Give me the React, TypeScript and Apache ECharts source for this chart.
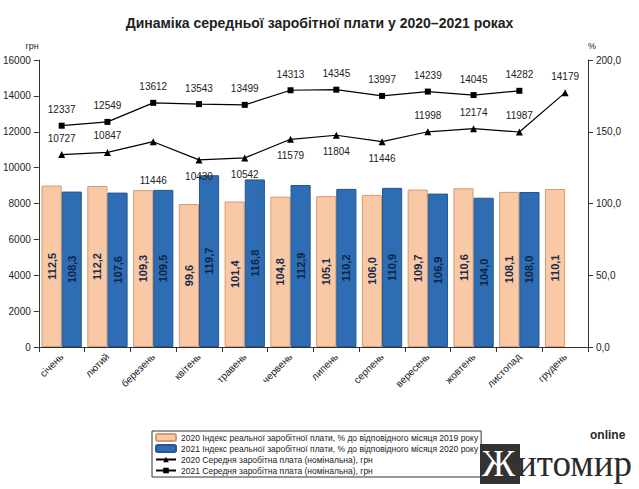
import React, { useEffect, useRef } from "react";
import * as echarts from "echarts";

const months = ["січень", "лютий", "березень", "квітень", "травень", "червень", "липень", "серпень", "вересень", "жовтень", "листопад", "грудень"];
const idx2020 = [112.5, 112.2, 109.3, 99.6, 101.4, 104.8, 105.1, 106.0, 109.7, 110.6, 108.1, 110.1];
const idx2021 = [108.3, 107.6, 109.5, 119.7, 116.8, 112.9, 110.2, 110.9, 106.9, 104.0, 108.0, null];
const wage2020 = [10727, 10847, 11446, 10430, 10542, 11579, 11804, 11446, 11998, 12174, 11987, 14179];
const wage2021 = [12337, 12549, 13612, 13543, 13499, 14313, 14345, 13997, 14239, 14045, 14282, null];
const pos2020 = ["top", "top", "bottom", "bottom", "bottom", "bottom", "bottom", "bottom", "top", "top", "top", "top"];

const names = [
  "2020 Індекс реальної заробітної плати, % до відповідного місяця 2019 року",
  "2021 Індекс реальної заробітної плати, % до відповідного місяця 2020 року",
  "2020 Середня заробітна плата (номінальна), грн",
  "2021 Середня заробітна плата (номінальна), грн",
];

const fmt = (v: number) => v.toFixed(1).replace(".", ",");

const App: React.FC = () => {
  const ref = useRef<HTMLDivElement>(null);

  useEffect(() => {
    if (!ref.current) return;
    document.body.style.margin = "0";
    const chart = echarts.init(ref.current, null, { renderer: "svg" });
    const barLabel = {
      show: true,
      position: "inside" as const,
      rotate: 90,
      fontSize: 11,
      fontWeight: "bold" as const,
      color: "#1a2a4a",
      formatter: (p: any) => fmt(p.value),
    };
    chart.setOption({
      animation: false,
      textStyle: { fontFamily: "Liberation Sans, Arial, sans-serif" },
      title: {
        text: "Динаміка середньої заробітної плати у 2020–2021 роках",
        left: "center",
        top: 11,
        textStyle: { fontSize: 14, fontWeight: "bold", color: "#222" },
      },
      grid: { left: 38, right: 51, top: 60, bottom: 142 },
      legend: {
        orient: "vertical",
        left: 152,
        top: 431,
        height: 80,
        itemGap: 2,
        itemWidth: 20,
        itemHeight: 7,
        padding: [2, 3, 2, 3],
        borderColor: "#333",
        borderWidth: 1,
        textStyle: { fontSize: 8.5, color: "#222" },
        data: names,
      },
      xAxis: {
        type: "category",
        data: months,
        axisLine: { lineStyle: { color: "#333" } },
        axisTick: { show: true, lineStyle: { color: "#333" } },
        axisLabel: { rotate: 45, fontSize: 10, color: "#222", margin: 8 },
      },
      yAxis: [
        {
          type: "value",
          name: "грн",
          nameGap: 10,
          nameTextStyle: { fontSize: 9, color: "#222", align: "right" },
          min: 0,
          max: 16000,
          interval: 2000,
          axisLine: { show: true, lineStyle: { color: "#333" } },
          axisTick: { show: true },
          axisLabel: { fontSize: 10, color: "#222", formatter: (v: number) => String(v) },
          splitLine: { show: false },
        },
        {
          type: "value",
          name: "%",
          nameGap: 10,
          nameTextStyle: { fontSize: 9, color: "#222", align: "left" },
          min: 0,
          max: 200,
          interval: 50,
          axisLine: { show: true, lineStyle: { color: "#333" } },
          axisTick: { show: true },
          axisLabel: { fontSize: 10, color: "#222", formatter: (v: number) => fmt(v) },
          splitLine: { show: false },
        },
      ],
      series: [
        {
          name: names[0],
          type: "bar",
          yAxisIndex: 1,
          data: idx2020,
          barGap: "0%",
          barCategoryGap: "12%",
          itemStyle: { color: "#f9c9a6", borderColor: "#d89a70", borderWidth: 1 },
          label: barLabel,
        },
        {
          name: names[1],
          type: "bar",
          yAxisIndex: 1,
          data: idx2021,
          itemStyle: { color: "#2e6db3", borderColor: "#24578f", borderWidth: 1 },
          label: { ...barLabel, color: "#0d2545" },
        },
        {
          name: names[2],
          type: "line",
          yAxisIndex: 0,
          data: wage2020.map((v, i) => ({ value: v, label: { position: pos2020[i], distance: i === 2 ? 30 : 8 } })),
          symbol: "triangle",
          symbolSize: 7,
          lineStyle: { color: "#000", width: 1.2 },
          itemStyle: { color: "#000" },
          label: { show: true, fontSize: 10, color: "#222" },
        },
        {
          name: names[3],
          type: "line",
          yAxisIndex: 0,
          data: wage2021,
          symbol: "rect",
          symbolSize: 6,
          lineStyle: { color: "#000", width: 1.2 },
          itemStyle: { color: "#000" },
          label: { show: true, position: "top", fontSize: 10, color: "#222", distance: 8 },
        },
      ],
      graphic: [
        { type: "rect", left: 480, top: 444, z: 100, shape: { width: 40, height: 40 }, style: { fill: "#333" } },
        {
          type: "text",
          left: 482,
          top: 445,
          z: 101,
          style: { text: "Ж", font: "37px 'Liberation Serif', serif", fill: "#fff" },
        },
        {
          type: "text",
          left: 517,
          top: 445,
          z: 101,
          style: { text: "итомир", font: "37px 'Liberation Serif', serif", fill: "#2a2a2a" },
        },
        {
          type: "text",
          left: 590,
          top: 429,
          z: 101,
          style: { text: "online", font: "bold 12px 'Liberation Sans', sans-serif", fill: "#2a2a2a" },
        },
      ],
    });
    return () => chart.dispose();
  }, []);

  return <div ref={ref} style={{ width: 639, height: 489 }} />;
};

export default App;
